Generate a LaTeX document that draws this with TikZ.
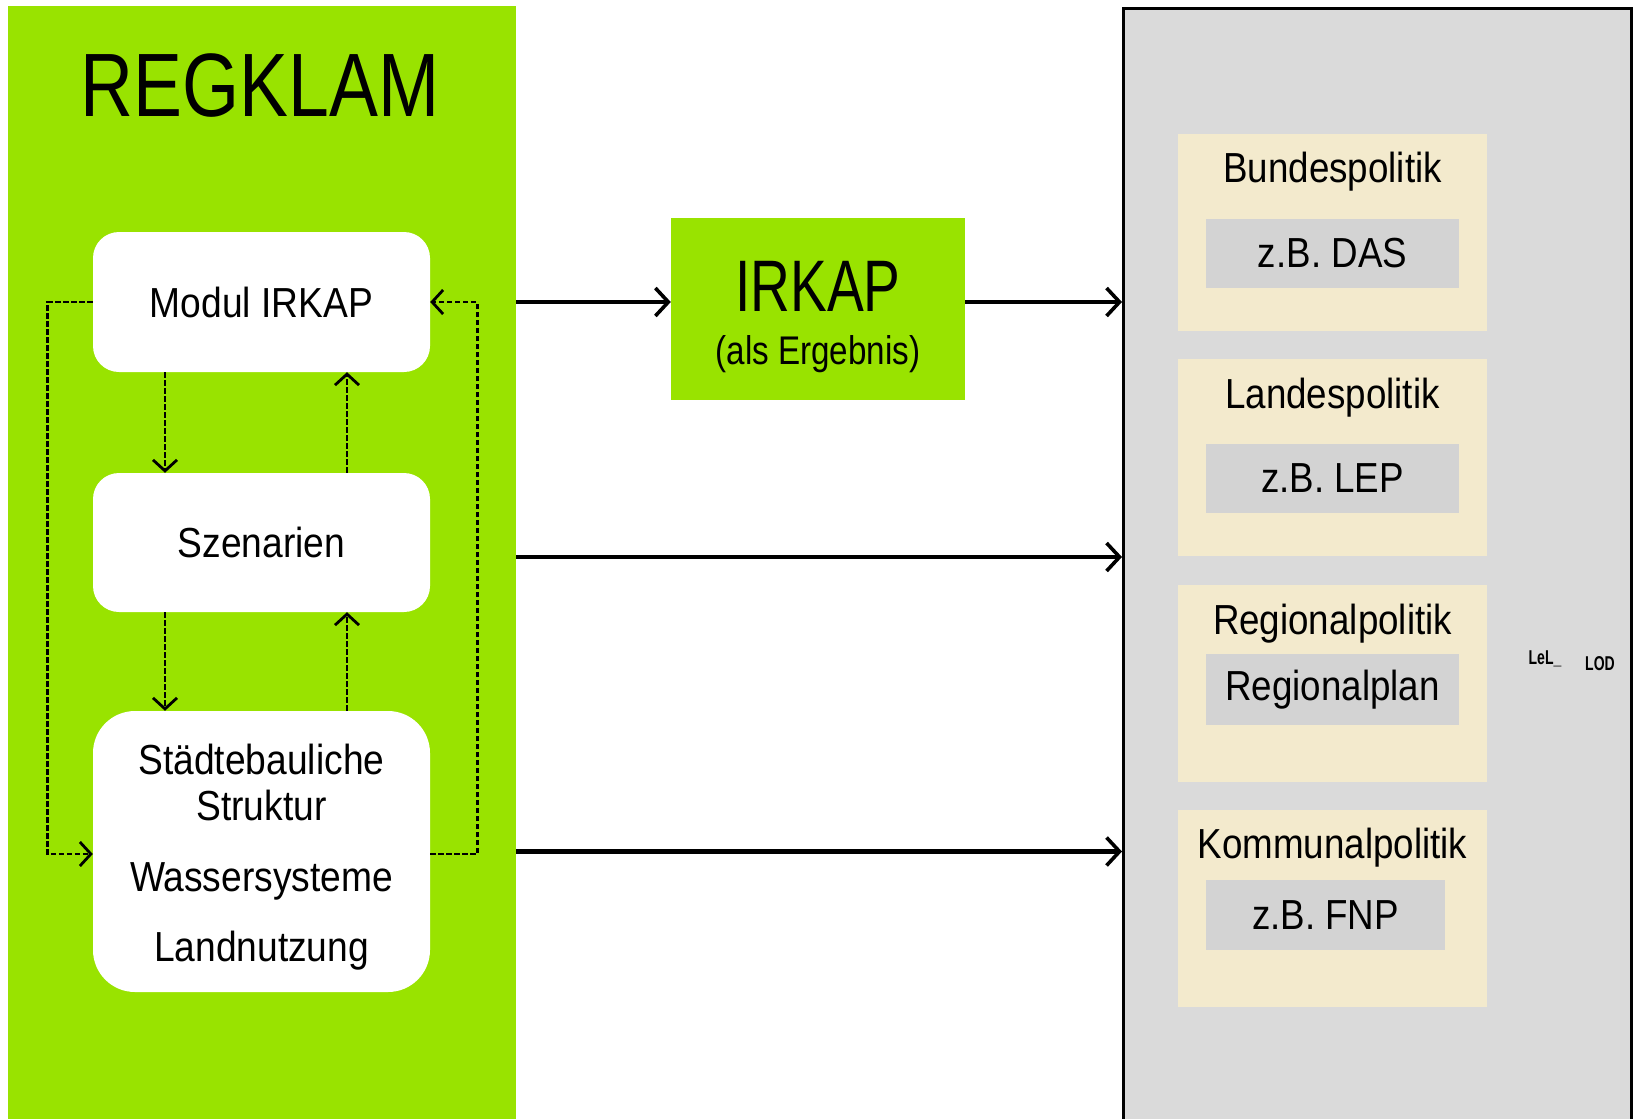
\documentclass[tikz,border=0pt]{standalone}
\usepackage{fontspec}
\usepackage{graphicx}
\setmainfont{Liberation Sans}
\usetikzlibrary{arrows.meta}
\definecolor{lgreen}{RGB}{153,227,0}
\definecolor{panelgray}{RGB}{218,218,218}
\definecolor{innergray}{RGB}{211,211,211}
\definecolor{beige}{RGB}{243,234,205}
\newcommand{\sqz}[2]{\scalebox{#1}[1]{#2}}
\newcommand{\lsq}[1]{\scalebox{0.885}[1]{#1}}
\newcommand{\rsq}[1]{\scalebox{0.875}[1]{#1}}
\begin{document}
\begin{tikzpicture}[x=1pt,y=-1pt,
  txt/.style={font=\fontsize{42}{50}\selectfont, inner sep=0pt, text=black},
  wbox/.style={fill=white, draw=none, rounded corners=26pt, minimum width=337pt, inner sep=0pt},
  polbox/.style={fill=beige, draw=none, minimum width=309pt, minimum height=197pt, inner sep=0pt},
  inbox/.style={fill=innergray, draw=none, minimum width=253pt, minimum height=69pt, inner sep=0pt, font=\fontsize{42}{50}\selectfont},
  mainarrow/.style={line width=4.2pt, -{Straight Barb[length=13pt,width=28pt,line width=3.6pt]}},
  dasharrow/.style={line width=2.7pt, dash pattern=on 5.5pt off 2.5pt, -{Straight Barb[length=11pt,width=24pt,line width=2.8pt]}}
]
\useasboundingbox (0,0) rectangle (1633,1119);

% panels
\node[fill=lgreen, draw=none, minimum width=508pt, minimum height=1125pt, inner sep=0pt, anchor=north west] (regklam) at (8,6) {};
\node[fill=panelgray, draw=black, line width=3pt, minimum width=508pt, minimum height=1130pt, inner sep=0pt, anchor=north west] (policy) at (1122,7) {};

% REGKLAM title
\node[inner sep=0pt, font=\fontsize{90}{100}\selectfont] (title) at (260,86) {\sqz{0.815}{REGKLAM}};

% left boxes
\node[wbox, minimum height=140pt, txt] (modul) at (261.5,302) {\lsq{Modul IRKAP}};
\node[wbox, minimum height=139pt, txt] (szen) at (261.5,542.5) {\lsq{Szenarien}};
\node[wbox, minimum height=281pt, rounded corners=42pt] (strukt) at (261.5,851.5) {};
\node[txt] (t1) at (261.5,759) {\lsq{Städtebauliche}};
\node[txt] (t2) at (261.5,805) {\lsq{Struktur}};
\node[txt] (t3) at (261.5,881) {\lsq{Wassersysteme}};
\node[txt] (t4) at (261.5,951) {\lsq{Landnutzung}};

% IRKAP box
\node[fill=lgreen, draw=none, minimum width=294pt, minimum height=182pt, inner sep=0pt] (irkap) at (818,309) {};
\node[inner sep=0pt, font=\fontsize{73}{80}\selectfont] (irkapt) at (818,286) {\sqz{0.755}{IRKAP}};
\node[inner sep=0pt, font=\fontsize{40}{46}\selectfont] (irkaps) at (818,354) {\sqz{0.83}{(als Ergebnis)}};

% policy boxes
\node[polbox] (bund) at (1332.5,232) {};
\node[polbox] (land) at (1332.5,457) {};
\node[polbox] (reg) at (1332.5,683) {};
\node[polbox] (komm) at (1332.5,908) {};
\node[txt] (bundt) at (1332.5,172) {\rsq{Bundespolitik}};
\node[txt] (landt) at (1332.5,398) {\rsq{Landespolitik}};
\node[txt] (regt) at (1332.5,624) {\rsq{Regionalpolitik}};
\node[txt] (kommt) at (1332.5,848) {\rsq{Kommunalpolitik}};
\node[inbox] (das) at (1332.5,253.5) {\rsq{z.B. DAS}};
\node[inbox] (lep) at (1332.5,478) {\rsq{z.B. LEP}};
\node[inbox, minimum height=71pt] (rplan) at (1332.5,689.5) {\rsq{Regionalplan}};
\node[inbox, minimum width=239pt, minimum height=70pt] (fnp) at (1325.5,915) {\rsq{z.B. FNP}};

% small garbled marks
\node[inner sep=0pt, font=\bfseries\fontsize{20}{21}\selectfont] (g1) at (1545,659) {\sqz{0.7}{LeL\_}};
\node[inner sep=0pt, font=\bfseries\fontsize{20}{21}\selectfont] (g2) at (1600,664) {\sqz{0.7}{LOD}};

% solid arrows
\draw[mainarrow] (regklam.east |- modul.east) -- (irkap.west |- modul.east);
\draw[mainarrow] (irkap.east |- modul.east) -- (policy.west |- modul.east);
\draw[mainarrow] (regklam.east |- 0,557) -- (policy.west |- 0,557);
\draw[mainarrow] (regklam.east |- strukt.east) -- (policy.west |- strukt.east);

% dashed arrows between boxes
\draw[dasharrow] ([xshift=-96.5pt]modul.south) -- ([xshift=-96.5pt]szen.north);
\draw[dasharrow] ([xshift=85.5pt]szen.north) -- ([xshift=85.5pt]modul.south);
\draw[dasharrow] ([xshift=-96.5pt]szen.south) -- ([xshift=-96.5pt]strukt.north);
\draw[dasharrow] ([xshift=85.5pt]strukt.north) -- ([xshift=85.5pt]szen.south);

% feedback loops
\draw[dasharrow] (modul.west) -- ++(-45,0) |- ([yshift=-2.5pt]strukt.west);
\draw[dasharrow] ([yshift=-2.5pt]strukt.east) -- ++(47,0) |- (modul.east);
\end{tikzpicture}
\end{document}
